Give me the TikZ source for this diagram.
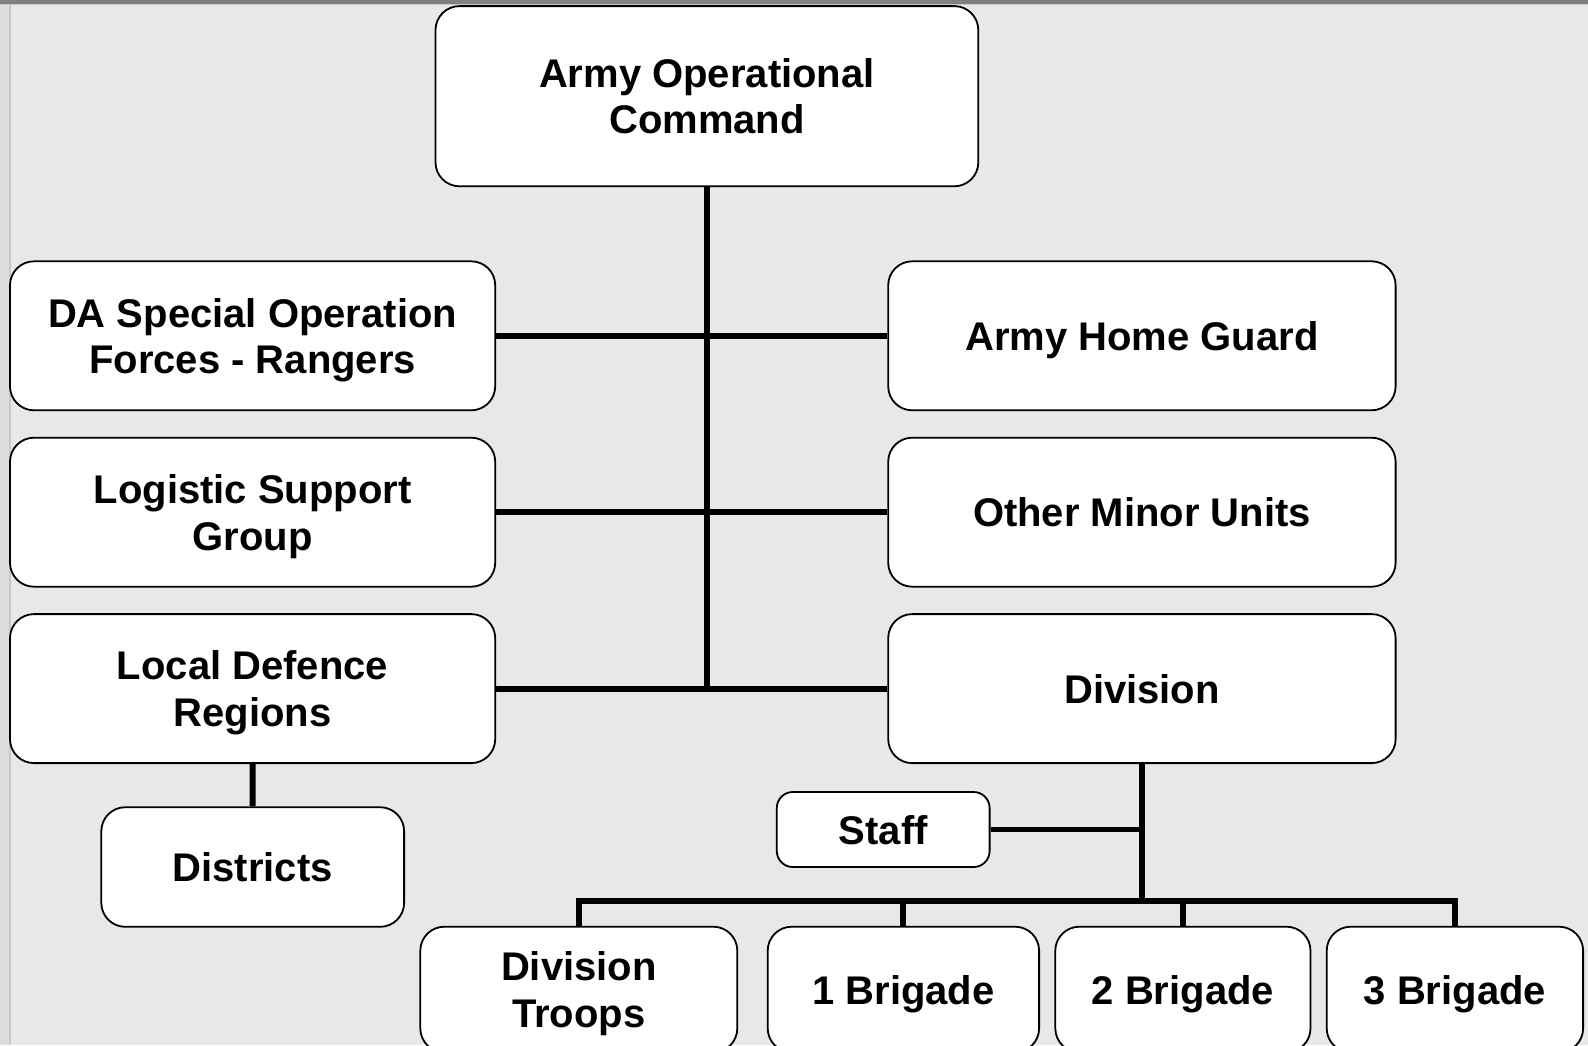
\documentclass[tikz,border=0pt]{standalone}
\usepackage{fontspec}
\setmainfont{Liberation Sans}
\newcommand{\nodep}[1]{\raisebox{0pt}[\height][0pt]{#1}}
\begin{document}
\begin{tikzpicture}[x=1pt,y=-1pt,
  box/.style={draw=black,line width=0.9pt,fill=white,rounded corners=12pt,
    align=center,inner sep=0pt,font=\fontsize{20}{23.3}\selectfont\bfseries},
  conn/.style={line width=3pt,draw=black},
  thinconn/.style={line width=2.7pt,draw=black}]
\useasboundingbox (0,0) rectangle (794,522.5);
\fill[fill={rgb,255:red,232;green,232;blue,232}] (0,0) rectangle (794,522.5);
\fill[fill={rgb,255:red,221;green,221;blue,221}] (0,0) rectangle (5,522.5);
\draw[draw={rgb,255:red,200;green,200;blue,200},line width=0.6pt] (5,0) -- (5,522.5);
\fill[fill={rgb,255:red,128;green,128;blue,128}] (0,0) rectangle (794,2);
\draw[draw={rgb,255:red,200;green,200;blue,200},line width=0.5pt] (0,2.3) -- (794,2.3);

\coordinate (trunkend) at (353.5,344.35);
\coordinate (busc) at (571.2,450.7);

\node[box,minimum width=271.4pt,minimum height=90.1pt] (aoc) at (353.45,48.1) {Army Operational\\\nodep{Command}};
\node[box,minimum width=242.6pt,minimum height=74.5pt] (da) at (126.3,167.9) {DA Special Operation\\\nodep{Forces - Rangers}};
\node[box,minimum width=242.6pt,minimum height=74.5pt] (lsg) at (126.3,256.1) {Logistic Support\\\nodep{Group}};
\node[box,minimum width=242.6pt,minimum height=74.5pt] (ldr) at (126.3,344.3) {Local Defence\\\nodep{Regions}};
\node[box,minimum width=253.7pt,minimum height=74.5pt] (ahg) at (570.95,167.9) {\nodep{Army Home Guard}};
\node[box,minimum width=253.7pt,minimum height=74.5pt] (omu) at (570.95,256.1) {\nodep{Other Minor Units}};
\node[box,minimum width=253.7pt,minimum height=74.5pt] (div) at (570.95,344.3) {\nodep{Division}};
\node[box,minimum width=151.4pt,minimum height=59.8pt] (dis) at (126.35,433.5) {\nodep{Districts}};
\node[box,minimum width=106.4pt,minimum height=37.5pt,rounded corners=8pt] (staff) at (441.6,414.75) {\nodep{Staff}};
\node[box,minimum width=158.5pt,minimum height=62.8pt] (dt) at (289.4,494.75) {Division\\\nodep{Troops}};
\node[box,minimum width=135.7pt,minimum height=62.8pt] (b1) at (451.7,494.75) {\nodep{1 Brigade}};
\node[box,minimum width=127.6pt,minimum height=62.8pt] (b2) at (591.45,494.75) {\nodep{2 Brigade}};
\node[box,minimum width=128.2pt,minimum height=62.8pt] (b3) at (727.45,494.75) {\nodep{3 Brigade}};

\draw[conn] (aoc.south) -- (aoc.south |- trunkend);
\draw[conn] (da.east) -- (ahg.west);
\draw[conn] (lsg.east) -- (omu.west);
\draw[conn] (ldr.east) -- (div.west);
\draw[conn] (ldr.south) -- (dis.north);
\draw[conn] (div.south) -- (div.south |- busc);
\draw[thinconn] (staff.east) -- (staff.east -| busc);
\draw[conn] (dt.north) -- (dt.north |- busc) -- (b3.north |- busc) -- (b3.north);
\draw[conn] (b1.north) -- (b1.north |- busc);
\draw[conn] (b2.north) -- (b2.north |- busc);
\end{tikzpicture}
\end{document}
